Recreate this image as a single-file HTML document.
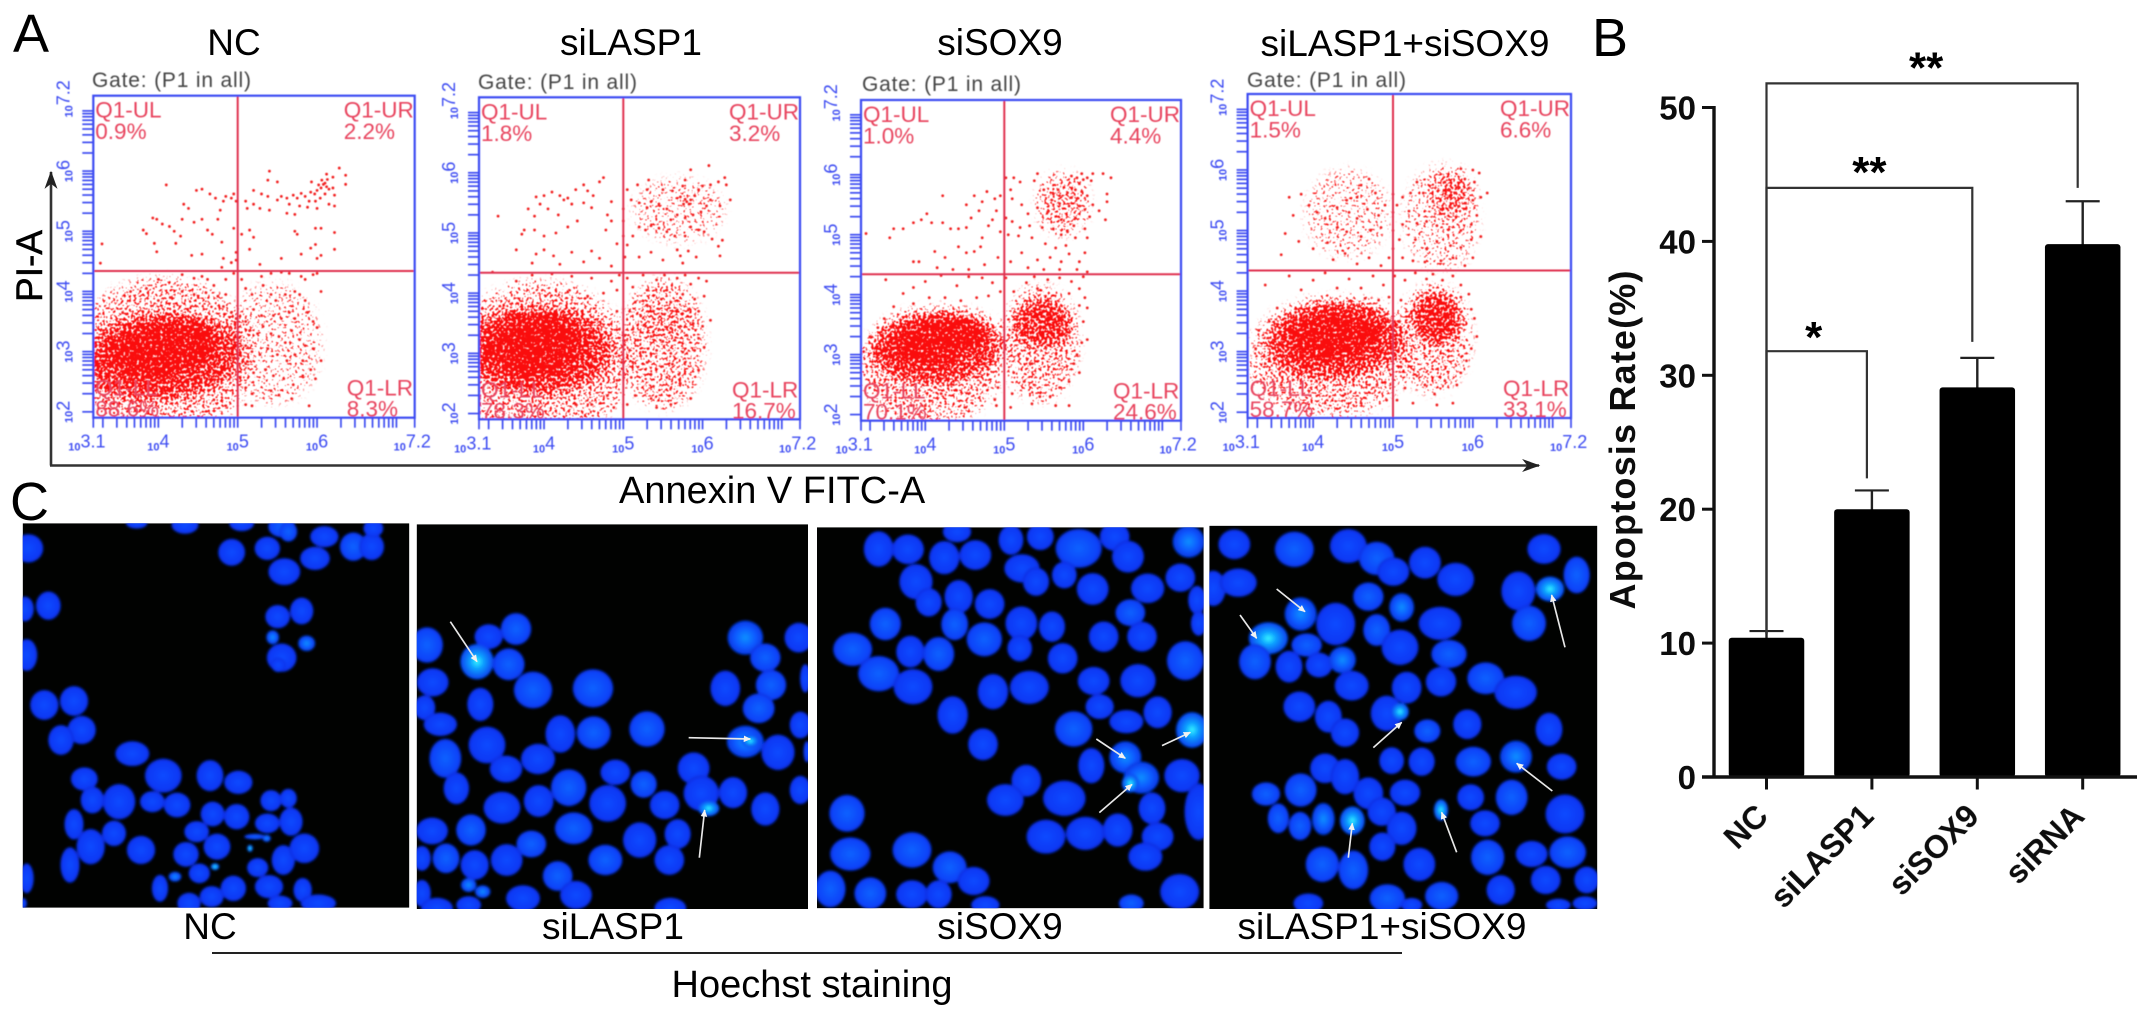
<!DOCTYPE html>
<html lang="en">
<head>
<meta charset="utf-8">
<title>Apoptosis flow cytometry, bar chart and Hoechst staining</title>
<style>
html,body{margin:0;padding:0;background:#fff;width:2150px;height:1015px;overflow:hidden}
svg{display:block;font-family:"Liberation Sans",sans-serif}
</style>
</head>
<body>
<svg id="fig" xmlns="http://www.w3.org/2000/svg" width="2150" height="1015" viewBox="0 0 2150 1015">
<defs>
<filter id="soft" x="-5%" y="-5%" width="110%" height="110%"><feGaussianBlur stdDeviation="0.55"/></filter>
<filter id="softText" x="-5%" y="-20%" width="110%" height="140%"><feGaussianBlur stdDeviation="0.35"/></filter>
<filter id="cellBlur" x="-5%" y="-5%" width="110%" height="110%"><feGaussianBlur stdDeviation="4"/></filter>
<filter id="dither" x="-10%" y="-10%" width="120%" height="120%" color-interpolation-filters="sRGB">
<feGaussianBlur in="SourceAlpha" stdDeviation="5" result="soft"/>
<feTurbulence type="fractalNoise" baseFrequency="0.38" numOctaves="2" seed="7" result="raw"/>
<feColorMatrix in="raw" type="matrix" values="0 0 0 0 1  0 0 0 0 0  0 0 0 0 0  0 0 0 2.5 -0.75" result="noise"/>
<feComposite in="soft" in2="noise" operator="arithmetic" k1="0" k2="1" k3="1" k4="-1" result="sum"/>
<feComponentTransfer in="sum" result="mask"><feFuncA type="linear" slope="10" intercept="0"/></feComponentTransfer>
<feFlood flood-color="#fa1010" result="red"/>
<feComposite in="red" in2="mask" operator="in"/>
</filter>
<radialGradient id="lev0"><stop offset="0" stop-color="#0a4aff"/><stop offset="0.85" stop-color="#0838f4"/><stop offset="1" stop-color="#0628d4"/></radialGradient>
<radialGradient id="lev1"><stop offset="0" stop-color="#0e62ff"/><stop offset="0.85" stop-color="#0842f8"/><stop offset="1" stop-color="#062cd8"/></radialGradient>
<radialGradient id="lev2"><stop offset="0" stop-color="#1090ff"/><stop offset="0.6" stop-color="#0858ff"/><stop offset="1" stop-color="#0636e0"/></radialGradient>
<radialGradient id="lev3"><stop offset="0" stop-color="#38f4ff"/><stop offset="0.4" stop-color="#0aa0ff"/><stop offset="1" stop-color="#0640f0"/></radialGradient>
<marker id="arrowHead" viewBox="0 0 10 10" refX="9" refY="5" markerWidth="4.4" markerHeight="4.4" orient="auto"><path d="M0 0.5L10 5L0 9.5Z" fill="#f2f2f2"/></marker>
<marker id="axisHead" viewBox="0 0 14 10" refX="13" refY="5" markerWidth="9" markerHeight="5" orient="auto" markerUnits="strokeWidth"><path d="M0 0L14 5L0 10L4 5Z" fill="#222"/></marker>
</defs>

<g font-size="54" fill="#000" filter="url(#softText)">
<text x="13" y="52">A</text>
<text x="1592" y="56">B</text>
<text x="10" y="520">C</text>
</g>

<g id="flowPanels"></g>

<g fill="none" stroke="#333" stroke-width="2.6">
<path d="M51 465.5V172" marker-end="url(#axisHead)"/>
<path d="M50 465.5H1539" marker-end="url(#axisHead)"/>
</g>
<text transform="translate(42,266) rotate(-90)" text-anchor="middle" font-size="37" fill="#000" stroke="#000" stroke-width="0.5" filter="url(#softText)">PI-A</text>
<text x="619" y="503" font-size="38" fill="#000" filter="url(#softText)">Annexin V FITC-A</text>

<g id="barChart"></g>

<g id="micro"></g>

<g font-size="37" fill="#000" text-anchor="middle" filter="url(#softText)">
<text x="210" y="939">NC</text>
<text x="613" y="939">siLASP1</text>
<text x="1000" y="939">siSOX9</text>
<text x="1382" y="939">siLASP1+siSOX9</text>
<text x="812" y="997" font-size="38">Hoechst staining</text>
</g>
<line x1="212" y1="953" x2="1402" y2="953" stroke="#222" stroke-width="2"/>

<script>
// ---------- Bar chart data ----------
const barCategories = ["NC", "siLASP1", "siSOX9", "siRNA"];
const barValues = [10.4, 20.0, 29.1, 39.8];
const barErrors = [0.5, 1.4, 2.2, 3.2];
const barTicks = [0, 10, 20, 30, 40, 50];
const bracketSpec = [
  {from: 0, to: 1, level: 31.8, leftDrop: 10.7, rightDrop: 22.3, mark: "*"},
  {from: 0, to: 2, level: 44.0, leftDrop: 10.7, rightDrop: 32.5, mark: "**"},
  {from: 0, to: 3, level: 51.8, leftDrop: 10.7, rightDrop: 44.0, mark: "**"}
];

// ---------- Flow cytometry data: log10 fluorescence (x, y pairs) ----------
const panelTitles = ["NC", "siLASP1", "siSOX9", "siLASP1+siSOX9"];
const quadrantUL = ["0.9%", "1.8%", "1.0%", "1.5%"];
const quadrantUR = ["2.2%", "3.2%", "4.4%", "6.6%"];
const quadrantLL = ["88.6%", "78.3%", "70.1%", "58.7%"];
const quadrantLR = ["8.3%", "16.7%", "24.6%", "33.1%"];
const xTickValues = [3.1, 4, 5, 6, 7.2];
const yTickValues = [2, 3, 4, 5, 6, 7.2];
const gateXValue = 5;
const gateYValue = 4.34;

// density regions: centre x, centre y, radius x, radius y (log10 units), tilt, density class
const densityNC = [
  [5.45,3.13,.58,.98,0,3],[4.06,2.91,1.13,1.28,0,2],[4.02,2.91,1.0,.72,-5,1],
  [4.06,3.05,.68,.42,-10,0],[3.45,2.91,.13,.14,0,0],[3.95,2.78,.3,.26,0,0]
];
const densitySiLASP1 = [
  [5.5,3.16,.5,1.05,0,2],[5.55,3.5,.3,.33,0,3],[3.95,2.88,1.13,1.28,0,2],
  [3.91,3.05,.95,.72,0,1],[3.89,3.13,.59,.5,-5,0],[3.32,3.05,.14,.2,0,0],[3.78,2.77,.2,.22,0,0],
  [5.7,5.38,.55,.5,0,3]
];
const densitySiSOX9 = [
  [5.45,3.19,.46,.94,0,2],[5.74,5.52,.3,.5,0,2],[4.06,2.8,.88,.94,0,2],[5.49,3.52,.38,.39,0,1],
  [4.15,3.13,.84,.61,-4,1],[4.19,3.27,.59,.33,-8,0],[3.77,3.13,.21,.28,0,0],[4.19,2.97,.13,.17,0,0]
];
const densityCombo = [
  [4.43,5.28,.5,.7,0,3],[5.6,5.2,.45,.85,0,3],[5.72,5.58,.28,.45,0,2],[5.75,5.65,.12,.16,0,2],
  [4.2,2.9,1.0,.95,0,2],[5.5,3.2,.45,.85,0,2],[5.55,3.56,.32,.45,0,1],[4.27,3.2,.85,.65,-6,1],
  [4.27,3.27,.58,.38,-6,0],[5.58,3.5,.14,.22,0,2]
];

const pointsNC = [
6.08,5.78,6.05,5.72,6.1,5.8,6.12,5.74,6.02,5.77,6,5.68,5.97,5.62,5.92,5.65,6.06,5.85,6.13,5.86,6.15,5.7,6.2,5.72,6.22,5.6,6.1,5.62,6.04,5.55,5.98,5.5,5.9,5.5,5.85,5.58,5.8,5.63,5.75,5.55,5.7,5.6,5.62,5.55,5.55,5.58,5.5,5.52,5.65,5.45,5.78,5.42,5.88,5.4,6,5.38,6.15,5.45,6.22,5.42,6.2,5.9,6.28,6.05,6.36,5.93,6.36,5.78,6.12,5.95,5.93,5.82,5.38,5.58,5.3,5.62,5.2,5.68,5.4,5.35,5.28,5.38,5.2,5.45,5.62,5.3,5.72,5.28,5.1,5.5,5.12,5.38,5.38,5.85,5.5,5.82,5.4,6,
5.2,4.9,5.15,5.02,5.05,4.95,5.72,5,5.75,4.95,5.98,5.05,6.05,5.05,6.22,4.98,6.22,4.7,5.98,4.78,5.92,4.72,5.8,4.62,6,4.55,6.05,4.6,5.55,4.55,5.15,4.7,5.28,4.45,
4.1,5.77,3.81,5.02,3.85,4.96,3.29,4.79,3.27,4.47,3.98,4.66,3.95,4.8,3.93,5.22,3.98,5.2,4.05,5.12,4.14,5.08,4.2,5,4.28,4.92,4.22,4.8,4.3,5.2,4.32,5.45,4.38,5.38,4.45,5.15,4.55,5.2,4.62,5.02,4.68,4.95,4.75,5.2,4.78,5.35,4.82,5.5,4.85,5.58,4.92,5.55,4.95,5.62,4.98,5.5,4.72,5.55,4.65,5.62,4.55,5.7,4.48,5.68,4.8,4.82,4.95,5.05,4.55,4.62,4.42,4.6,4.82,4.55,4.92,4.48,4.98,4.65,4.98,4.52,4.8,4.4,
5.05,4.2,5.1,4.05,5.18,3.95,5.3,4.25,5.32,4.1,5.42,4.3,5.55,4.32,5.65,4.3,5.8,4.25,5.95,4.28,5.85,4.2,6,4.3,5.42,3.95,5.48,3.85,5.6,3.95,5.72,4,5.78,3.95,5.85,3.85,6.05,4,5.2,3.7,5.3,3.6,5.45,3.6,5.55,3.55,5.65,3.65,5.72,3.55,5.88,3.65,5.95,3.5,6,3.4,5.1,3.5,5.15,3.35,5.25,3.3,5.32,3.42,5.42,3.3,5.52,3.25,5.6,3.15,5.68,3.35,5.78,3.2,5.85,3.1,5.95,3.05,5.1,3.1,5.18,3,5.28,2.95,5.38,3.05,5.5,2.95,5.62,2.85,5.72,2.95,5.82,2.85,5.92,2.7,6.05,2.85,5.1,2.8,5.2,2.65,5.35,2.7,5.45,2.6,5.58,2.55,5.7,2.45,5.82,2.6,5.98,2.55,5.1,2.4,5.18,2.3,5.42,2.35,5.52,2.28,5.68,2.22,5.9,2.1,5.1,2.12,5.18,2.1,
3.65,4,3.85,4.05,4,4.2,4.3,4.28,4.45,4.22,4.55,4.25,4.62,4.2,4.7,4.1,4.85,4.2,4.95,4.3,4.3,4,4.45,3.95,4.6,3.98,4.75,3.92,4.85,3.95,3.55,3.65,4,3.85,4.15,3.9,4.82,3.75,4.92,3.65,4.98,3.55,4.9,3.4,4.95,3.2,4.88,3.05,4.96,2.9,4.75,2.5,4.85,2.35,4.7,2.2,4.4,2.1,4.85,2.1
];
const pointsSiLASP1 = [
5.8,5.52,5.78,5.56,5.83,5.48,5.76,5.48,5.85,5.55,5.72,5.6,5.9,5.62,5.95,5.72,6,5.78,6.1,5.8,6.2,5.85,6.3,5.8,6.35,5.55,6.22,5.45,6.1,5.55,6.05,5.45,5.98,5.35,5.88,5.3,5.78,5.25,5.68,5.3,5.6,5.22,5.55,5.4,5.45,5.48,5.35,5.52,5.3,5.42,5.2,5.5,5.1,5.55,5.05,5.72,5.18,5.8,5.3,5.72,5.32,5.88,5.5,5.72,5.62,5.7,5.75,5.78,5.85,6.05,5.78,5.88,6.08,6.12,6.28,5.92,5.2,5.1,5.28,5.05,5.12,4.95,5.35,5.12,5.45,5.08,5.55,5.02,5.65,4.95,5.78,4.95,5.85,5.1,5.95,5.05,6.02,5.02,6.12,4.9,6.2,4.78,6.25,4.88,6.22,4.62,5.68,4.72,5.72,4.62,5.82,4.7,5.92,4.6,5.75,4.5,5.5,4.55,5.35,4.68,5.2,4.6,5.05,4.8,5,4.95,5,5.2,5,5.4,5.02,4.6,
4.25,5.55,4.3,5.58,4.2,5.62,4.35,5.48,4.1,5.68,4,5.62,3.9,5.6,3.95,5.48,4.05,5.4,3.8,5.4,3.88,5.28,4.18,5.3,4.4,5.72,4.5,5.8,4.55,5.7,4.62,5.62,4.7,5.85,4.75,5.92,4.85,5.52,4.8,5.3,4.85,5.2,4.78,5.05,4.6,5.42,4.5,5.5,4.42,5.2,4.3,5.1,4.15,5,4,4.95,3.88,5.05,3.75,5.05,3.72,4.98,3.42,5.28,3.65,4.72,3.9,4.65,3.85,4.5,4,4.72,4.12,4.62,4.2,4.48,4.35,4.68,4.5,4.52,4.6,4.7,4.7,4.58,4.85,4.45,4.92,4.82,
5.05,4.25,5.12,4.1,5.25,4.3,5.3,4.05,5.42,4.22,5.52,4.3,5.55,4.05,5.68,4.25,5.78,4.3,5.85,4.15,5.95,4.25,6.05,4.2,6.02,3.95,5.9,3.9,5.75,3.98,5.6,3.85,5.48,3.9,5.3,3.8,5.15,3.85,5.08,3.7,5.22,3.62,5.38,3.7,5.52,3.65,5.68,3.72,5.82,3.72,5.95,3.7,6.1,3.55,6,3.45,5.88,3.5,5.72,3.45,5.6,3.42,5.45,3.4,5.28,3.45,5.12,3.4,5.02,3.3,5.18,3.22,5.35,3.28,5.5,3.2,5.65,3.22,5.8,3.3,5.95,3.25,6.02,3.1,5.9,3.05,5.75,3.02,5.6,3,5.42,3.05,5.25,3.02,5.08,3.05,5.12,2.85,5.3,2.85,5.48,2.78,5.62,2.82,5.78,2.85,5.95,2.72,5.35,2.65,5.55,2.6,5.7,2.65,5.1,2.6,5.38,2.45,5.6,2.42,5.72,2.5,5.85,2.25,5.35,2.25,5.15,2.3,5.42,2.1,5.6,2.15,5.05,2.15,
3.35,4.35,3.65,4.2,3.85,4.3,4.1,4.32,4.35,4.28,4.6,4.25,4.85,4.2,4.95,4.3,4.92,4.05,4.75,4,4.55,3.95,4.3,4.02,4.92,3.7,4.95,3.4,4.9,3.1,4.98,2.85,4.92,2.55,4.8,2.3,4.6,2.15,4.88,2.1,4.4,2.15
];
const pointsSiSOX9 = [
5.98,6.02,6,5.92,5.95,5.85,6.05,5.95,6.12,6.02,6.1,5.9,5.92,5.95,5.85,5.98,5.9,5.75,5.98,5.72,6.05,5.65,5.92,5.6,5.85,5.62,5.8,5.7,5.7,5.65,5.68,5.75,5.62,5.68,5.6,5.58,5.7,5.52,5.82,5.48,5.95,5.48,6.02,5.42,6.12,5.5,6.2,5.4,6.08,5.3,5.9,5.28,5.72,5.25,5.55,5.38,5.42,5.45,5.3,5.35,5.22,5.5,5.1,5.6,5.08,5.75,5.12,5.95,5.02,5.95,5.2,5.88,5.38,5.9,5.42,6.02,5.5,5.75,6.25,6.02,6.35,5.95,6.3,5.68,6.3,5.55,6.28,5.25,5.88,5.15,5.8,5.05,5.72,5,5.62,5.1,5.48,5.12,5.32,5.15,5.2,5.12,5.1,5.22,5.02,5.28,5.05,5,5.18,4.98,5.35,4.95,5.52,4.85,5.65,4.78,5.78,4.82,5.9,4.95,6.02,5.1,6.05,4.95,6.02,4.7,5.95,4.55,5.82,4.68,5.72,4.55,5.58,4.62,5.42,4.58,5.22,4.7,5.08,4.55,5.3,4.45,5.5,4.42,5.7,4.42,5.92,4.42,6.05,4.38,
3.25,5.02,3.6,5.1,3.72,5.1,3.55,4.95,4.02,5.35,3.95,5.25,3.85,5.2,4.08,5.2,4.22,5.2,4.32,5.1,4.42,5.1,4.52,5.12,4.58,5.28,4.68,5.4,4.52,5.5,4.72,5.55,4.62,5.65,4.78,5.72,4.22,5.65,4.88,5.6,4.95,5.65,4.9,5.4,4.85,5.25,4.8,5.15,4.95,5.05,4.72,4.95,4.62,4.72,4.7,4.8,4.52,4.7,4.42,4.8,4.25,4.62,4.12,4.72,3.92,4.55,3.85,4.55,4.15,4.45,4.35,4.42,4.55,4.42,4.75,4.5,4.92,4.62,
5.02,4.28,5.12,4.05,5.28,4.2,5.38,4.3,5.42,4.1,5.55,4.25,5.7,4.28,5.85,4.22,6,4.3,5.95,4.1,5.82,4.02,6.02,3.95,6.05,3.78,5.95,3.82,6,3.55,5.98,3.2,6.05,3.25,5.92,3.0,5.88,2.85,5.95,2.7,5.82,2.55,5.7,2.45,5.58,2.3,5.45,2.3,5.65,2.15,5.82,2.15,5.35,2.18,5.1,2.35,5.08,2.12,5.25,2.55,5.12,2.7,5.35,2.85,5.18,3,
3.5,4.25,3.72,4.02,3.85,4.12,4.0,4.22,4.2,4.32,4.4,4.15,4.55,4.3,4.72,4.28,4.85,4.2,4.95,4.05,4.8,3.98,4.65,3.95,4.45,3.9,4.25,3.95,4.05,3.95,3.85,3.85,3.6,3.8,3.48,3.6,3.4,3.45,3.3,3.3,3.22,3.05,4.88,2.25,4.92,2.45,4.75,2.5,4.55,2.35,4.35,2.5,4.2,2.35,4.0,2.15,3.85,2.15,4.5,2.12,4.9,2.15
];
const pointsCombo = [
5.72,5.55,5.78,5.62,5.7,5.68,5.82,5.72,5.65,5.8,5.9,5.85,5.95,5.7,6.02,5.8,6.08,5.95,6,6,5.85,6.02,6.18,5.62,6.1,5.55,6,5.5,5.9,5.45,5.82,5.4,5.72,5.38,5.6,5.35,5.5,5.48,5.38,5.62,5.3,5.8,5.22,5.62,5.12,5.55,5.05,5.42,5.2,5.32,5.12,5.1,5.3,5.12,5.42,5.15,5.55,5.08,5.7,5.02,5.85,5,5.98,5.1,6.05,5.25,6.1,4.9,5.98,4.85,5.85,4.72,5.72,4.75,5.55,4.82,5.42,4.7,5.28,4.85,5.08,4.85,5.12,4.55,5.25,4.5,5.4,4.48,5.6,4.5,5.75,4.55,5.9,4.42,6.0,4.55,5,5.6,5,5.3,5,5,5,4.7,
4.7,5.85,4.6,5.75,4.78,5.62,4.55,5.55,4.42,5.5,4.3,5.38,4.45,5.3,4.55,5.2,4.68,5.35,4.82,5.25,4.9,5.42,4.85,5.05,4.72,5,4.6,4.9,4.42,4.98,4.3,5.05,4.15,5.2,4.05,5.3,3.95,5.42,3.85,5.6,3.7,5.55,3.75,5.25,3.65,4.95,3.6,4.6,3.82,4.82,4,4.7,4.18,4.8,4.25,4.52,4.4,4.62,4.55,4.45,4.7,4.55,4.85,4.42,4.95,4.55,
5.02,4.25,5.15,4.18,5.28,4.3,5.42,4.2,5.5,4.28,5.62,4.18,5.75,4.25,5.85,4.1,5.95,3.95,5.85,3.9,5.98,3.7,6.02,3.55,6.05,3.25,5.98,3.05,5.92,2.85,5.85,2.65,5.8,2.45,5.65,2.52,5.52,2.3,5.4,2.45,5.3,2.6,5.15,2.4,5.05,2.2,5.25,2.15,5.55,2.12,5.75,2.15,5.1,2.75,5.05,3.15,5.08,3.5,5.1,3.85,
3.4,4.1,3.55,3.72,3.7,4.25,3.85,4.02,4.0,4.18,4.15,4.3,4.3,4.05,4.45,4.2,4.6,4.05,4.75,4.25,4.88,4.1,4.95,3.9,4.82,3.85,4.65,3.88,3.45,3.5,3.32,3.35,3.28,3.05,3.4,2.8,3.3,2.5,3.45,2.3,3.6,2.45,3.75,2.2,3.95,2.35,4.15,2.15,4.4,2.3,4.6,2.15,4.8,2.45,4.92,2.2,4.95,2.7
];
const panelDensity = [densityNC, densitySiLASP1, densitySiSOX9, densityCombo];
const panelPoints = [pointsNC, pointsSiLASP1, pointsSiSOX9, pointsCombo];

// layout of each flow panel (frame edges and gate line pixels)
const panelLayout = [
  {left:93.3, right:414.7, top:95.7, bottom:417.7, gx:237.7, gy:271, titleX:234, titleY:55, gateX:92, gateY:87},
  {left:479, right:800, top:97.3, bottom:419.3, gx:623.3, gy:272.7, titleX:631, titleY:55, gateX:478, gateY:89},
  {left:861, right:1181, top:100, bottom:420.7, gx:1004.3, gy:274.3, titleX:1000, titleY:55, gateX:862, gateY:91},
  {left:1247.6, right:1571, top:94, bottom:418, gx:1393, gy:270.5, titleX:1405, titleY:56, gateX:1247, gateY:87}
];

// micrograph layout and nuclei sketched from the photographs: cx, cy, rx, ry, brightness
const imageLayout = [
  {ox:15, oy:515, x:22.7, y:523.3, w:386.6, h:384.4},
  {ox:412, oy:515, x:416.7, y:524.3, w:391.3, h:384.7},
  {ox:812, oy:515, x:817, y:527.3, w:386.7, h:381},
  {ox:1205, oy:515, x:1209.3, y:525.7, w:388, h:383.3}
];
const nucleiNC = [[365,25,30,15],[510,30,38,25],[680,25,35,22],[800,35,38,30,1],[820,50,25,28,1],[650,112,38,38],[757,100,36,33],[928,65,40,30],[900,130,42,33],[808,170,45,38],[1015,95,38,40,1],[1070,95,35,38],[1075,40,28,25],[40,100,42,40],[30,282,25,35],[100,272,35,40],[35,420,30,45],[788,305,35,33],[860,288,33,38],[773,367,18,20,2],[875,385,24,22,2],[800,428,42,40],[790,450,20,20],[88,570,40,42],[177,558,40,42],[200,645,40,40],[138,675,36,42],[352,716,48,35],[445,782,52,48],[585,782,38,44],[670,802,40,33],[208,792,38,33],[232,855,33,38],[312,860,46,50],[412,860,35,30],[486,870,38,35],[593,897,34,35],[665,905,36,36],[177,928,27,43],[227,995,40,50],[297,955,34,36],[378,1005,40,40],[165,1050,27,50],[768,857,30,30],[820,850,24,27],[757,925,35,28],[828,920,33,40],[545,950,35,30],[606,995,38,37],[513,1018,36,35],[553,1075,30,28],[805,1035,33,42],[868,1000,42,42],[728,1058,30,27],[35,1090,20,42],[435,1120,23,38],[590,1145,34,30],[655,1120,36,36],[762,1115,40,33],[863,1125,26,34],[522,1165,33,30],[795,1165,35,22],[910,1165,50,25],[25,1165,10,15],[480,1085,18,14,2],[600,1055,12,10,3],[705,1000,8,10,3],[720,965,30,8,1],[755,970,12,10,2]];
const nucleiSiLASP1 = [[45,390,45,50,1],[230,365,40,35],[312,342,43,45,1],[195,440,47,50,3],[290,448,45,45,1],[62,502,45,40],[363,525,54,52,1],[543,520,57,54,1],[205,568,37,47],[38,578,30,35],[85,628,47,33],[445,657,42,53],[545,653,48,46,1],[705,642,50,50,1],[225,690,52,52],[100,730,45,55,1],[282,762,46,38],[378,732,48,43],[610,772,42,36],[133,820,36,45],[470,818,50,52,1],[695,808,37,38,1],[270,878,52,45],[380,858,42,45],[587,865,52,52],[758,870,42,40],[845,760,45,45],[868,835,50,50],[963,833,40,44],[890,880,30,22,3],[60,948,45,38],[177,945,42,44,1],[485,940,53,45,1],[683,975,47,50],[797,957,37,42],[358,987,42,38,1],[30,1030,25,35],[102,1030,38,42,1],[188,1050,40,42],[284,1035,45,45],[580,1035,48,43,1],[772,1035,42,42],[437,1083,42,42,1],[170,1110,22,20,2],[212,1130,22,18,2],[492,1140,45,40],[30,1135,25,38],[333,1150,48,37],[75,1180,45,30],[170,1170,35,25],[775,1180,45,30],[1000,368,50,48,2],[1060,428,43,40,1],[1160,368,40,42],[1077,510,43,43,1],[940,520,42,50],[1040,580,45,42,1],[1180,490,15,40],[1165,630,30,38],[1000,680,52,45,2],[1015,678,24,18,3],[1098,712,47,50],[1165,825,30,40],[1060,882,40,47],[1185,710,10,30]];
const nucleiSiSOX9 = [[435,50,40,30],[200,102,42,50],[288,103,45,42],[397,128,43,47],[490,120,45,42],[597,75,35,42],[685,65,38,38],[800,100,65,55,1],[908,65,42,40],[948,125,45,45],[1130,80,45,45,2],[630,160,50,40],[672,200,37,40],[757,180,35,38],[842,222,45,45],[1007,220,47,42],[1105,188,42,40],[312,200,47,50],[350,262,37,40],[440,245,40,47],[533,267,42,42],[220,327,44,46,1],[428,328,38,45,1],[628,325,45,48],[720,335,37,43],[955,293,42,38,1],[517,373,50,48,1],[875,365,42,43],[990,365,42,42],[1155,255,25,40],[1160,325,22,35],[122,403,55,47,1],[295,410,40,45],[380,417,44,48,1],[623,400,35,37],[752,430,42,43],[1120,437,52,55,1],[200,476,58,50,1],[303,515,55,50],[845,498,45,40],[978,497,50,47],[543,530,43,50],[652,517,55,47],[863,575,40,35],[1037,592,40,45],[422,600,43,53],[785,642,53,50,1],[943,620,48,33],[1140,645,45,50,3],[513,688,42,45],[838,752,37,50],[940,727,45,45,2],[988,788,50,45,2],[955,805,24,26,3],[1110,782,50,47],[643,797,42,45],[580,855,52,45],[757,850,60,50],[1020,880,38,45],[105,895,50,52,1],[1160,890,40,80],[702,965,55,48],[820,955,55,47],[917,945,42,47],[1037,965,45,40],[1000,1025,48,40],[115,1017,57,47,1],[300,1005,55,50,1],[413,1057,48,45,1],[485,1098,45,40],[55,1122,43,52,1],[175,1135,45,45,1],[300,1138,45,40],[380,1138,37,40],[520,1170,40,25],[1103,1130,55,50],[958,1165,35,25,1]];
const nucleiCombo = [[88,88,45,42],[268,103,55,50,1],[430,93,52,48],[515,130,50,47,1],[565,170,45,40],[660,143,45,45],[752,193,52,47],[1017,102,47,42],[1115,180,37,52,1],[940,228,48,55],[1035,222,40,35,3],[972,325,48,50,1],[25,220,35,50],[100,203,52,40],[490,245,43,40,1],[590,277,35,40,2],[287,297,45,47,2],[392,327,55,60],[515,345,38,45,1],[190,370,55,45,3],[705,325,60,47],[585,397,52,50],[732,417,50,40,1],[305,390,43,33,1],[150,440,45,50,1],[252,455,38,45],[342,450,38,35],[412,435,38,38,2],[440,512,48,42],[605,518,42,45],[708,500,43,42],[842,490,52,45,1],[932,532,60,47],[283,575,45,43],[370,605,38,45],[420,653,40,40],[545,595,45,50],[585,590,25,25,3],[667,648,37,33,1],[787,628,40,42],[1032,643,38,47],[560,737,35,38],[650,740,37,40],[805,740,50,42,1],[933,725,45,45,2],[1070,755,42,37],[360,760,42,42],[420,785,40,50],[287,825,45,47,1],[183,837,40,33,1],[600,833,43,37],[490,835,42,45],[797,847,38,37],[920,847,45,50,1],[1080,897,55,55],[530,890,40,40],[590,940,42,47],[220,910,30,42,1],[285,933,32,40,1],[355,912,32,45,2],[442,917,35,40,3],[708,885,20,30,3],[840,925,42,37],[532,995,37,40],[352,1048,47,50,1],[445,1065,42,55,1],[643,1048,45,47],[848,1027,47,50,1],[980,1017,45,37],[1088,1012,52,45,1],[1022,1095,42,40],[1145,1095,35,38],[887,1125,40,42],[547,1150,50,40,1],[710,1143,47,40,1],[310,1165,42,28],[620,1170,30,20],[1060,1170,35,18],[1140,1165,35,20]];
const imageNuclei = [nucleiNC, nucleiSiLASP1, nucleiSiSOX9, nucleiCombo];
const imageArrows = [
  [],
  [[115,320,195,440],[830,668,1015,672],[862,1028,878,885]],
  [[853,672,940,730],[1050,692,1135,652],[862,893,960,808]],
  [[215,222,300,290],[105,300,155,370],[1080,397,1040,240],[505,698,590,622],[1042,828,935,745],[430,1028,442,925],[755,1012,710,892]]
];

const NS = "http://www.w3.org/2000/svg";
function mk(tag, attrs, parent) {
  const e = document.createElementNS(NS, tag);
  for (const k in attrs) e.setAttribute(k, attrs[k]);
  parent.appendChild(e);
  return e;
}

// ---------- Flow panels ----------
const flowRoot = document.getElementById("flowPanels");
const defs = document.querySelector("defs");
const AX_BLUE = "#3c4cf2";
const densityOpacity = [1, 0.62, 0.32, 0.16];

panelLayout.forEach(function (L, i) {
  const xUnit = (L.right - L.left) / 4.05;
  const yUnit = (L.bottom - L.top) / 5.35;
  const xAt = function (v) { return L.gx + (v - gateXValue) * xUnit; };
  const yAt = function (v) { return L.gy + (gateYValue - v) * yUnit; };

  const clip = mk("clipPath", {id: "plotClip" + i}, defs);
  mk("rect", {x: L.left, y: L.top, width: L.right - L.left, height: L.bottom - L.top}, clip);

  const g = mk("g", {filter: "url(#soft)"}, flowRoot);
  
  

  const title = mk("text", {x: L.titleX, y: L.titleY, "text-anchor": "middle", "font-size": 37, fill: "#000"}, flowRoot);
  title.textContent = panelTitles[i];
  
  

  const gate = mk("text", {x: L.gateX, y: L.gateY, "font-size": 21, fill: "#444", textLength: 159, lengthAdjust: "spacing"}, g);
  gate.textContent = "Gate: (P1 in all)";
  
  

  const plot = mk("g", {"clip-path": "url(#plotClip" + i + ")"}, g);
  
  

  const cloud = mk("g", {filter: "url(#dither)"}, plot);
  
  
  panelDensity[i].forEach(function (d) {
    const cx = xAt(d[0]), cy = yAt(d[1]);
    const blob = mk("ellipse", {cx: cx, cy: cy, rx: d[2] * xUnit, ry: d[3] * yUnit,
      transform: "rotate(" + d[4] + " " + cx + " " + cy + ")", fill: "#000", "fill-opacity": densityOpacity[d[5]]}, cloud);
    
    
  });

  const pts = panelPoints[i];
  for (let p = 0; p < pts.length; p += 2) {
    const dot = mk("circle", {cx: xAt(pts[p]), cy: yAt(pts[p + 1]), r: 1.4, fill: "#f22020"}, plot);
    
    
  }

  const gv = mk("line", {x1: xAt(gateXValue), x2: xAt(gateXValue), y1: L.top, y2: L.bottom, stroke: "#e03050", "stroke-width": 2}, g);
  
  
  const gh = mk("line", {x1: L.left, x2: L.right, y1: yAt(gateYValue), y2: yAt(gateYValue), stroke: "#e03050", "stroke-width": 2}, g);
  
  

  const frame = mk("rect", {x: L.left, y: L.top, width: L.right - L.left, height: L.bottom - L.top, fill: "none", stroke: AX_BLUE, "stroke-width": 2.2}, g);
  
  

  // log ticks
  for (let d = 2; d <= 7; d++) {
    for (let k = 1; k <= 9; k++) {
      const v = d + Math.log10(k);
      const py = yAt(v);
      if (py >= L.top && py <= L.bottom + 0.5) {
        const ty = mk("line", {x1: L.left - 11, x2: L.left, y1: py, y2: py, stroke: AX_BLUE, "stroke-width": 1.7}, g);
        
        
      }
      const px = xAt(v);
      if (px >= L.left && px <= L.right + 0.5) {
        const tx = mk("line", {x1: px, x2: px, y1: L.bottom, y2: L.bottom + 10, stroke: AX_BLUE, "stroke-width": 1.7}, g);
        
        
      }
    }
  }
  [L.left, L.right].forEach(function (px) {
    const edge = mk("line", {x1: px, x2: px, y1: L.bottom, y2: L.bottom + 10, stroke: AX_BLUE, "stroke-width": 1.7}, g);
    
    
  });

  function addExpLabel(parent, v) {
    const base = mk("tspan", {"font-size": 11, "font-weight": "bold"}, parent);
    base.textContent = "10";
    const exp = mk("tspan", {"font-size": 18, dy: -3}, parent);
    exp.textContent = String(v);
  }
  xTickValues.forEach(function (v) {
    const t = mk("text", {x: xAt(v), y: L.bottom + 33, "text-anchor": "middle", fill: AX_BLUE}, g);
    addExpLabel(t, v);
    
    
  });
  yTickValues.forEach(function (v) {
    const t = mk("text", {transform: "translate(" + (L.left - 21) + "," + yAt(v) + ") rotate(-90)", "text-anchor": "middle", fill: AX_BLUE}, g);
    addExpLabel(t, v);
    
    
  });

  // quadrant statistics
  const RED = "#e8455e";
  const quad = [
    ["Q1-UL", quadrantUL[i], L.left + 2, L.top + 22, L.top + 43.5],
    ["Q1-UR", quadrantUR[i], L.right - 71, L.top + 22, L.top + 43.5],
    ["Q1-LL", quadrantLL[i], L.left + 2, L.bottom - 22, L.bottom - 1],
    ["Q1-LR", quadrantLR[i], L.right - 68, L.bottom - 22, L.bottom - 1]
  ];
  quad.forEach(function (q) {
    const a = mk("text", {x: q[2], y: q[3], "font-size": 22.5, fill: RED}, g);
    a.textContent = q[0];
    
    
    const b = mk("text", {x: q[2], y: q[4], "font-size": 22.5, fill: RED}, g);
    b.textContent = q[1];
    
    
  });
});

// ---------- Bar chart ----------
const barRoot = document.getElementById("barChart");
const barZeroY = 777, barUnit = 13.39, barStepX = 105.4, barFirstX = 1766.5, barW = 75.5;
const barY = function (v) { return barZeroY - v * barUnit; };
const barX = function (i) { return barFirstX + i * barStepX; };
const barMax = Math.max.apply(null, barTicks);

const yAxis = mk("line", {x1: 1714, x2: 1714, y1: barY(barMax) - 1.5, y2: barZeroY + 1.5, stroke: "#111", "stroke-width": 3.4}, barRoot);



barCategories.forEach(function (c, i) {
  const x = barX(i), top = barY(barValues[i]), errTop = barY(barValues[i] + barErrors[i]);
  const stem = mk("line", {x1: x, x2: x, y1: errTop, y2: top + 2, stroke: "#222", "stroke-width": 2.4}, barRoot);
  
  
  const cap = mk("line", {x1: x - 17, x2: x + 17, y1: errTop, y2: errTop, stroke: "#222", "stroke-width": 2.2}, barRoot);
  
  
  const bar = mk("rect", {x: x - barW / 2, y: top, width: barW, height: barZeroY - top, rx: 3, fill: "#000"}, barRoot);
  
  
  const tick = mk("line", {x1: x, x2: x, y1: barZeroY, y2: barZeroY + 12.5, stroke: "#111", "stroke-width": 3}, barRoot);
  
  
  const lab = mk("text", {transform: "translate(" + (x + 3.5) + "," + (barZeroY + 41) + ") rotate(-45)", "text-anchor": "end", "font-size": 32, "font-weight": "bold", fill: "#111", filter: "url(#softText)"}, barRoot);
  lab.textContent = c;
  
  
});

const xAxis = mk("line", {x1: 1702, x2: 2137, y1: barZeroY, y2: barZeroY, stroke: "#111", "stroke-width": 3.4}, barRoot);



barTicks.forEach(function (v) {
  const t = mk("line", {x1: 1702, x2: 1714, y1: barY(v), y2: barY(v), stroke: "#111", "stroke-width": 3}, barRoot);
  
  
  const l = mk("text", {x: 1696, y: barY(v) + 12, "text-anchor": "end", "font-size": 33, "font-weight": "bold", fill: "#111", filter: "url(#softText)"}, barRoot);
  l.textContent = String(v);
  
  
});

const barTitle = mk("text", {transform: "translate(1635,440) rotate(-90)", "text-anchor": "middle", "font-size": 36, "font-weight": "bold", fill: "#111", textLength: 339, filter: "url(#softText)"}, barRoot);
barTitle.textContent = "Apoptosis Rate(%)";



bracketSpec.forEach(function (b) {
  const x1 = barX(b.from), x2 = barX(b.to) - 5;
  const y = barY(b.level);
  const path = mk("path", {d: "M" + x1 + " " + barY(b.leftDrop) + "V" + y + "H" + x2 + "V" + barY(b.rightDrop), fill: "none", stroke: "#333", "stroke-width": 2.2}, barRoot);
  
  
  const star = mk("text", {x: (x1 + x2) / 2 + (b.to === 1 ? -3 : (b.to === 2 ? 0 : 4)), y: y + (b.to === 1 ? 1 : -1), "text-anchor": "middle", "font-size": 44, "font-weight": "bold", fill: "#000"}, barRoot);
  star.textContent = b.mark;
  
  
});

// ---------- Fluorescence images ----------
const microRoot = document.getElementById("micro");
imageLayout.forEach(function (I, i) {
  const clip = mk("clipPath", {id: "imgClip" + i}, defs);
  mk("rect", {x: I.x, y: I.y, width: I.w, height: I.h}, clip);
  const g = mk("g", {"clip-path": "url(#imgClip" + i + ")"}, microRoot);
  
  
  const bg = mk("rect", {x: I.x, y: I.y, width: I.w, height: I.h, fill: "#010201"}, g);
  
  
  const inner = mk("g", {transform: "translate(" + I.ox + "," + I.oy + ") scale(0.33333)"}, g);
  const cells = mk("g", {filter: "url(#cellBlur)"}, inner);
  imageNuclei[i].forEach(function (n) {
    const c = mk("ellipse", {cx: n[0], cy: n[1], rx: n[2] * 1.07, ry: n[3] * 1.07, fill: "url(#lev" + (n[4] || 0) + ")"}, cells);
    
    
  });
  imageArrows[i].forEach(function (a) {
    const l = mk("line", {x1: a[0], y1: a[1], x2: a[2], y2: a[3], stroke: "#e8e8e8", "stroke-width": 5, "marker-end": "url(#arrowHead)"}, inner);
    
    
  });
});
</script>
</svg>
</body>
</html>
